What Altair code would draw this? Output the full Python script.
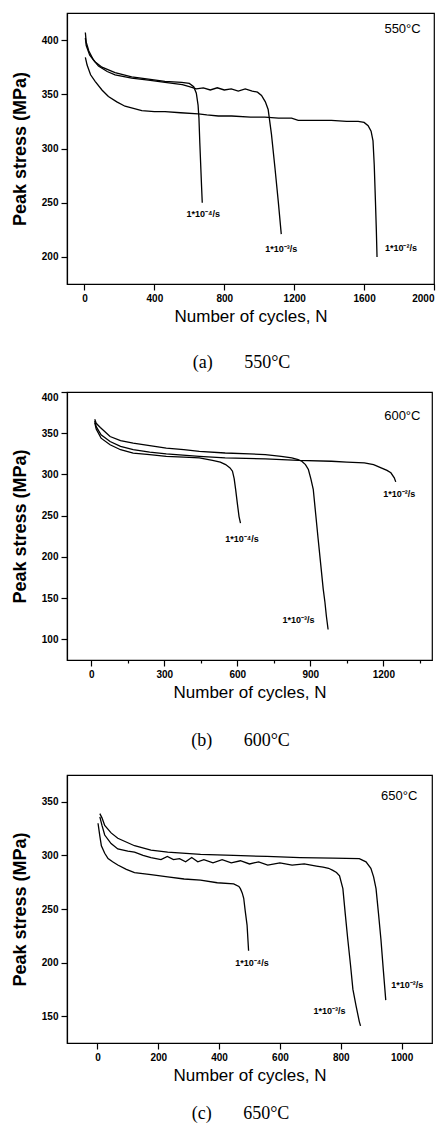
import altair as alt
import pandas as pd

# ---------------- Panel (a) 550°C ----------------
a_r4_n = [5, 10, 30, 60, 100, 175, 270, 366, 460, 556, 600, 625, 640, 650, 655, 660, 665, 670, 674]
a_r4_s = [402, 395, 386, 380, 375, 370, 366, 364, 362, 361, 360, 357, 351, 340, 328, 305, 285, 265, 250]
a_r3_n = [5, 10, 25, 50, 80, 130, 175, 270, 366, 461, 560, 600, 640, 680, 720, 760, 800, 840, 880, 920, 960, 990, 1013, 1035, 1051, 1070, 1090, 1109, 1126]
a_r3_s = [407, 398, 390, 382, 376, 371, 368, 365, 363, 361, 359, 357, 355, 356, 354, 356, 354, 355, 353, 355, 353, 352, 349, 343, 336, 313, 282, 251, 221]
a_r2_n = [5, 15, 35, 61, 100, 137, 185, 232, 280, 328, 400, 461, 550, 651, 700, 766, 842, 950, 1032, 1110, 1185, 1223, 1300, 1413, 1500, 1566, 1600, 1623, 1640, 1651, 1658, 1665, 1670, 1674]
a_r2_s = [384, 377, 368, 362, 354, 348, 343, 339, 337, 335, 334, 334, 333, 332, 331, 330, 330, 329, 329, 328, 328, 326, 326, 326, 325, 325, 324, 321, 316, 307, 285, 251, 225, 200]

# ---------------- Panel (b) 600°C ----------------
b_r4_n = [14, 20, 40, 77, 120, 172, 240, 308, 380, 444, 498, 530, 552, 570, 580, 587, 593, 600, 607, 613]
b_r4_s = [363, 355, 344, 336, 330, 326, 324, 322, 321, 320, 317, 315, 312, 308, 304, 295, 282, 265, 249, 241]
b_r3_n = [14, 20, 37, 77, 120, 172, 240, 308, 380, 444, 550, 650, 715, 780, 824, 850, 865, 880, 892, 902, 912, 922, 932, 943, 953, 960, 966, 973]
b_r3_s = [367, 362, 357, 346, 341, 338, 335, 332, 330, 328, 326, 325, 324, 322, 320, 318, 316, 312, 306, 295, 282, 252, 222, 190, 161, 145, 128, 112]
b_r2_n = [14, 20, 40, 77, 120, 172, 240, 308, 444, 550, 715, 851, 987, 1050, 1122, 1160, 1191, 1215, 1231, 1245, 1251]
b_r2_s = [365, 358, 348, 340, 334, 330, 327, 325, 322, 320, 319, 317, 316, 315, 314, 312, 308, 305, 302, 296, 291]

# ---------------- Panel (c) 650°C ----------------
c_r4_n = [2, 8, 13, 24, 35, 50, 67, 95, 122, 176, 231, 285, 339, 394, 448, 465, 470, 476, 481, 486, 492, 497]
c_r4_s = [330, 318, 309, 302, 297, 294, 291, 287, 284, 282, 280, 278, 277, 274.5, 273.5, 271, 269, 265, 260, 248, 235, 211]
c_r3_n = [8, 15, 24, 45, 67, 100, 122, 150, 176, 209, 230, 250, 270, 290, 310, 330, 350, 380, 410, 440, 470, 500, 530, 560, 600, 640, 680, 720, 742, 760, 774, 786, 796, 807, 815, 823, 832, 840, 850, 861, 865]
c_r3_s = [336, 328, 319, 311, 306, 304, 303, 300, 298, 296, 299, 296, 297, 294, 298, 294, 296, 293, 296, 293, 295, 292, 294, 291, 293, 291, 292, 290, 289, 288, 286, 284, 281, 269, 245, 222, 198, 175, 160, 145, 141]
c_r2_n = [8, 15, 24, 45, 67, 122, 176, 231, 339, 448, 557, 666, 774, 861, 883, 899, 908, 916, 924, 932, 940, 948]
c_r2_s = [339, 335, 328, 321, 316, 309, 305, 303, 301, 300, 299, 298, 297.5, 297, 294, 288, 280, 269, 246, 222, 193, 165]

rate_texts = ["1*10\u207b\u2074/s", "1*10\u207b\u00b3/s", "1*10\u207b\u00b2/s"]
a_lab_n = [680, 1126, 1811]
a_lab_s = [240, 207, 208]
b_lab_n = [619, 851, 1265]
b_lab_s = [222, 124, 276]
c_lab_n = [508, 763, 1019]
c_lab_s = [200, 155, 179]

temps = ["550\u00b0C", "600\u00b0C", "650\u00b0C"]
temp_n = [1820, 1278, 992]
temp_s = [410, 371, 355]
captions = ["(a)\u2003\u2002\u00a0550\u00b0C", "(b)\u2003\u2002\u00a0600\u00b0C", "(c)\u2003\u2002\u00a0650\u00b0C"]


def curves(series):
    rows = []
    for name, ns, ss in series:
        for i, (n, s) in enumerate(zip(ns, ss)):
            rows.append({"N": n, "S": s, "rate": name, "i": i})
    return pd.DataFrame(rows)


def panel(series, lab_n, lab_s, temp, tn, ts, caption, xdom, ydom, xvals, xstep,
          yvals, ystep, w, h, cap_offset):
    df = curves(series)
    labs = pd.DataFrame({"N": lab_n, "S": lab_s, "t": rate_texts})
    tdf = pd.DataFrame({"N": [tn], "S": [ts], "t": [temp]})
    x = alt.X("N:Q", scale=alt.Scale(domain=xdom, nice=False, zero=False),
              axis=alt.Axis(values=xvals, title="Number of cycles, N", format="d",
                            labelExpr=f"datum.value % {xstep} == 0 ? datum.label : ''",
                            tickSize={"expr": f"datum.value % {xstep} == 0 ? 6 : 3"}))
    y = alt.Y("S:Q", scale=alt.Scale(domain=ydom, nice=False, zero=False),
              axis=alt.Axis(values=yvals, title="Peak stress (MPa)", format="d",
                            labelExpr=f"datum.value % {ystep} == 0 ? datum.label : ''",
                            tickSize={"expr": f"datum.value % {ystep} == 0 ? 6 : 3"}))
    lines = alt.Chart(df).mark_line(color="black", strokeWidth=1.3, clip=True).encode(
        x=x, y=y, detail="rate:N", order="i:Q")
    rt = alt.Chart(labs).mark_text(font="Liberation Sans", fontWeight="bold", fontSize=9,
                                   color="black").encode(x="N:Q", y="S:Q", text="t:N")
    tt = alt.Chart(tdf).mark_text(font="Liberation Sans", fontSize=13,
                                  color="black").encode(x="N:Q", y="S:Q", text="t:N")
    return alt.layer(lines, rt, tt).properties(
        width=w, height=h,
        title=alt.TitleParams(text=caption, orient="bottom", font="Liberation Serif",
                              fontSize=18, fontWeight="normal", color="black",
                              offset=cap_offset, dx=-9, anchor="middle"))


pa = panel([("r4", a_r4_n, a_r4_s), ("r3", a_r3_n, a_r3_s), ("r2", a_r2_n, a_r2_s)],
           a_lab_n, a_lab_s, temps[0], temp_n[0], temp_s[0], captions[0],
           [-100, 2000], [175, 425], list(range(0, 2001, 200)), 400,
           list(range(200, 401, 25)), 50, 367, 271, 30)
pb = panel([("r4", b_r4_n, b_r4_s), ("r3", b_r3_n, b_r3_s), ("r2", b_r2_n, b_r2_s)],
           b_lab_n, b_lab_s, temps[1], temp_n[1], temp_s[1], captions[1],
           [-100, 1400], [75, 400], list(range(0, 1351, 150)), 300,
           list(range(100, 401, 25)), 50, 365, 268, 32)
pc = panel([("r4", c_r4_n, c_r4_s), ("r3", c_r3_n, c_r3_s), ("r2", c_r2_n, c_r2_s)],
           c_lab_n, c_lab_s, temps[2], temp_n[2], temp_s[2], captions[2],
           [-100, 1100], [125, 375], list(range(0, 1101, 100)), 200,
           list(range(150, 376, 25)), 50, 365, 268, 22)

top_two = alt.vconcat(pa, pb, spacing=17)
chart = alt.vconcat(top_two, pc, spacing=23).properties(
    padding={"left": 2, "top": 4, "right": 2, "bottom": 0}
).configure_view(stroke="black", strokeWidth=1.2).configure_axis(
    domainColor="black", domainWidth=1.2, tickColor="black", tickWidth=1.2,
    labelColor="black", titleColor="black", grid=False,
    labelFont="Liberation Sans", labelFontWeight="bold", labelFontSize=10,
    labelPadding=3, titleFont="Liberation Sans", titleFontWeight="normal",
    labelFlush=True
).configure_axisX(titleFontSize=17, titlePadding=5).configure_axisY(
    titleFontSize=18, titleFontWeight="bold", titlePadding=12)

chart.save("out.html", embed_options={"renderer": "svg", "actions": False})
